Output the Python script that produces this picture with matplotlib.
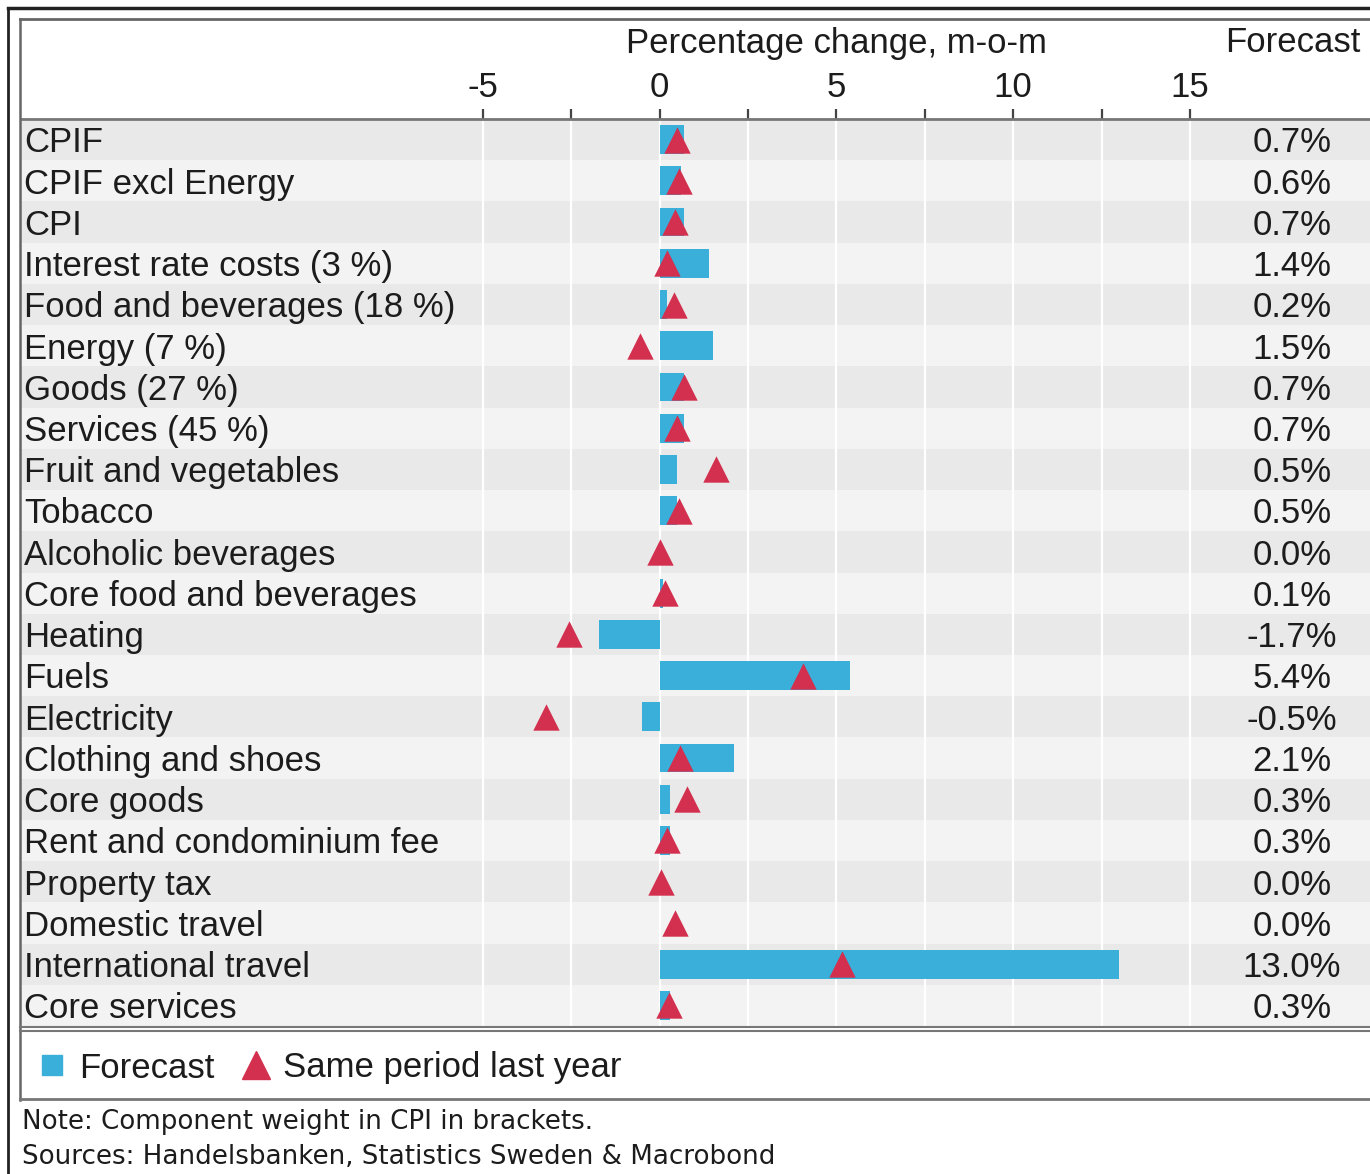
import numpy as np
import matplotlib
matplotlib.use("Agg")
import matplotlib.pyplot as plt
from matplotlib.lines import Line2D

plt.rcParams['font.family'] = ['Liberation Sans', 'DejaVu Sans']
plt.rcParams['axes.unicode_minus'] = False

categories = ["CPIF", "CPIF excl Energy", "CPI", "Interest rate costs (3 %)",
              "Food and beverages (18 %)", "Energy (7 %)", "Goods (27 %)",
              "Services (45 %)", "Fruit and vegetables", "Tobacco",
              "Alcoholic beverages", "Core food and beverages", "Heating", "Fuels",
              "Electricity", "Clothing and shoes", "Core goods",
              "Rent and condominium fee", "Property tax", "Domestic travel",
              "International travel", "Core services"]
forecast = [0.7, 0.6, 0.7, 1.4, 0.2, 1.5, 0.7, 0.7, 0.5, 0.5, 0.0, 0.1,
            -1.7, 5.4, -0.5, 2.1, 0.3, 0.3, 0.0, 0.0, 13.0, 0.3]
last_year = [0.5, 0.55, 0.45, 0.2, 0.4, -0.55, 0.7, 0.5, 1.6, 0.55, 0.0, 0.15,
             -2.55, 4.05, -3.2, 0.57, 0.78, 0.2, 0.03, 0.45, 5.15, 0.28]
major_ticks = [-5, 0, 5, 10, 15]
grid_ticks = [-5, -2.5, 0, 2.5, 5, 7.5, 10, 12.5, 15]

W, H = 1370, 1174
def fx(px): return px / W
def fy(py): return 1 - py / H

BLUE = '#3aafd9'
RED = '#d3304f'
TXT = '#1c1c1c'
FS = 25

fig = plt.figure(figsize=(W / 100, H / 100), dpi=100)

# main axes: rows region
left_px, right_px, top_px, bot_px = 21, 1380, 119, 1026
ax = fig.add_axes([fx(left_px), fy(bot_px), fx(right_px) - fx(left_px), fy(top_px) - fy(bot_px)])
ppu = (1190 - 659.5) / 15.0
ax.set_xlim((left_px - 659.5) / ppu, (right_px - 659.5) / ppu)
n = len(categories)
ax.set_ylim(n - 0.5, -0.5)
y = np.arange(n)

for i in range(n):
    ax.axhspan(i - 0.5, i + 0.5, color='#e9e9e9' if i % 2 == 0 else '#f3f3f3', lw=0, zorder=0)
for v in grid_ticks:
    ax.axvline(v, color='white', lw=1.6, zorder=1)

ax.barh(y, forecast, height=0.7, color=BLUE, zorder=2)
ax.scatter(last_year, y, marker='^', s=19 ** 2, color=RED, zorder=3, linewidths=0)

ax.xaxis.tick_top()
ax.set_xticks(major_ticks)
ax.set_xticks([-2.5, 2.5, 7.5, 12.5], minor=True)
ax.tick_params(axis='x', which='both', direction='out', length=7, width=1.6,
               color='#444444', labelsize=FS, labelcolor=TXT, pad=4)
ax.set_yticks([])
for s in ['left', 'right', 'bottom']:
    ax.spines[s].set_visible(False)
ax.spines['top'].set_color('#777777')
ax.spines['top'].set_linewidth(2)

ytr = ax.get_yaxis_transform()
lab_x = (24 - left_px) / (right_px - left_px)
val_x = (1292 - left_px) / (right_px - left_px)
dy = 0.08
for i, (c, v) in enumerate(zip(categories, forecast)):
    ax.text(lab_x, i + dy, c, transform=ytr, ha='left', va='center', fontsize=FS, color=TXT)
    ax.text(val_x, i + dy, f"{v:.1f}%", transform=ytr, ha='center', va='center', fontsize=FS, color=TXT)

# header texts
fig.text(fx(836), fy(43), "Percentage change, m-o-m", ha='center', va='center', fontsize=FS, color=TXT)
fig.text(fx(1293), fy(43), "Forecast", ha='center', va='center', fontsize=FS, color=TXT)

# frames
def hline(py, x0, x1, color, lw):
    fig.add_artist(Line2D([fx(x0), fx(x1)], [fy(py), fy(py)], color=color, lw=lw, transform=fig.transFigure))
def vline(px, y0, y1, color, lw):
    fig.add_artist(Line2D([fx(px), fx(px)], [fy(y0), fy(y1)], color=color, lw=lw, transform=fig.transFigure))

hline(8, 8, 1372, '#222222', 2.5)
vline(8, 8, 1176, '#222222', 2)
hline(19, 20, 1372, '#666666', 2)
vline(20, 19, 1100, '#666666', 1.8)
hline(1027, 20, 1372, '#777777', 1.5)
hline(1031, 20, 1372, '#777777', 1.5)
hline(1099, 20, 1372, '#777777', 2)

# legend
handles = [Line2D([], [], marker='s', color=BLUE, ls='', markersize=15),
           Line2D([], [], marker='^', color=RED, ls='', markersize=20)]
fig.legend(handles, ["Forecast", "Same period last year"], loc='center left',
           bbox_to_anchor=(fx(38), fy(1068)), frameon=False, ncol=2, fontsize=FS,
           handlelength=0.8, handletextpad=0.38, columnspacing=0.8,
           borderpad=0, borderaxespad=0, labelcolor=TXT)

# notes
fig.text(fx(22), fy(1122), "Note: Component weight in CPI in brackets.", ha='left', va='center',
         fontsize=18.8, color=TXT, family='DejaVu Sans')
fig.text(fx(22), fy(1157), "Sources: Handelsbanken, Statistics Sweden & Macrobond", ha='left', va='center',
         fontsize=18.8, color=TXT, family='DejaVu Sans')

fig.savefig("out.png", dpi=100)
